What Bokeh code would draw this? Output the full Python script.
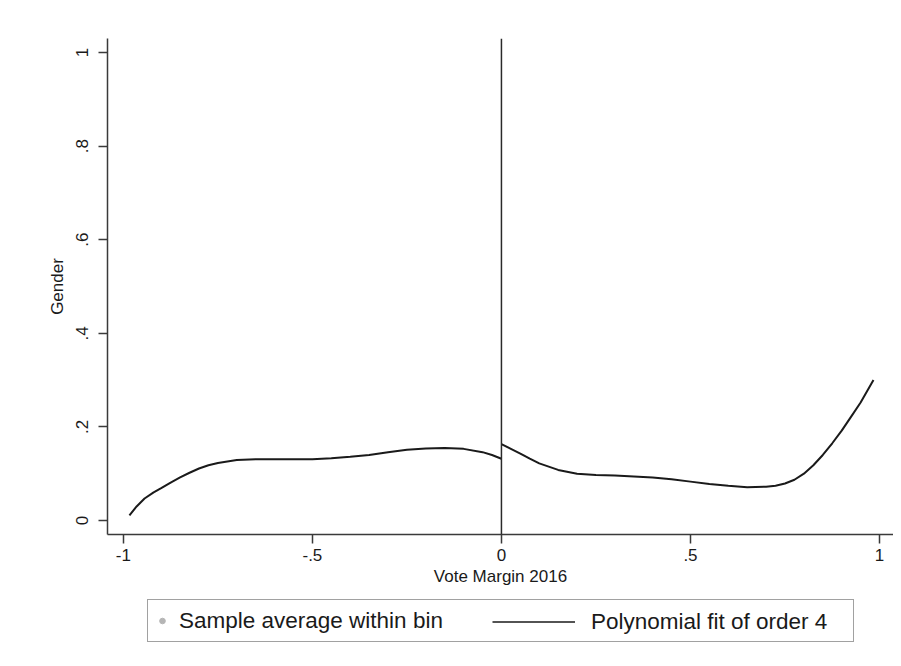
from bokeh.plotting import figure
from bokeh.models import Range1d, FixedTicker, Span, Legend, LegendItem, ColumnDataSource
from bokeh.layouts import column
from bokeh.embed import file_html
from bokeh.resources import INLINE

# --- data ---
left_x = [-0.984, -0.965, -0.944, -0.92, -0.90, -0.875, -0.85, -0.825, -0.80, -0.775, -0.75,
          -0.70, -0.65, -0.60, -0.55, -0.50, -0.45, -0.40, -0.35, -0.30, -0.25, -0.20,
          -0.15, -0.10, -0.05, -0.025, 0.0]
left_y = [0.011, 0.030, 0.047, 0.060, 0.069, 0.081, 0.092, 0.102, 0.111, 0.118, 0.123,
          0.129, 0.131, 0.131, 0.131, 0.131, 0.133, 0.136, 0.140, 0.146, 0.151, 0.154,
          0.155, 0.153, 0.146, 0.140, 0.132]
right_x = [0.0, 0.025, 0.05, 0.075, 0.10, 0.15, 0.20, 0.25, 0.30, 0.35, 0.40, 0.45, 0.50,
           0.55, 0.60, 0.65, 0.70, 0.725, 0.75, 0.775, 0.80, 0.825, 0.85, 0.875, 0.90,
           0.925, 0.95, 0.984]
right_y = [0.163, 0.153, 0.143, 0.132, 0.122, 0.108, 0.100, 0.097, 0.096, 0.094, 0.092,
           0.088, 0.083, 0.078, 0.074, 0.071, 0.072, 0.074, 0.079, 0.087, 0.100, 0.118,
           0.140, 0.165, 0.192, 0.222, 0.252, 0.300]
# legend-key sample only (kept outside the visible legend-strip range)
key_x = [5, 6]
key_y = [5, 6]

x_ticks = [-1, -0.5, 0, 0.5, 1]
x_tick_labels = ["-1", "-.5", "0", ".5", "1"]
y_ticks = [0, 0.2, 0.4, 0.6, 0.8, 1]
y_tick_labels = ["0", ".2", ".4", ".6", ".8", "1"]
cutoff = 0

FONT = "Liberation Sans"
AX = "#3a3a3a"
TXT = "#1a1a1a"

p = figure(width=893, height=595, output_backend="svg", toolbar_location=None,
           x_range=Range1d(-1.042, 1.037), y_range=Range1d(-0.030, 1.030),
           min_border_left=107, min_border_right=0, min_border_top=38, min_border_bottom=61,
           background_fill_color="white", border_fill_color="white")
p.outline_line_color = None
p.xgrid.visible = False
p.ygrid.visible = False

for ax in (p.xaxis[0], p.yaxis[0]):
    ax.axis_line_color = AX
    ax.axis_line_width = 1.5
    ax.major_tick_line_color = AX
    ax.major_tick_line_width = 1.5
    ax.major_tick_out = 9
    ax.major_tick_in = 0
    ax.minor_tick_line_color = None
    ax.major_label_text_font = FONT
    ax.major_label_text_font_size = "17px"
    ax.major_label_text_color = TXT
    ax.axis_label_text_font = FONT
    ax.axis_label_text_font_size = "17px"
    ax.axis_label_text_font_style = "normal"
    ax.axis_label_text_color = TXT

p.xaxis.ticker = FixedTicker(ticks=x_ticks)
p.xaxis.major_label_overrides = {t: l for t, l in zip(x_ticks, x_tick_labels)}
p.xaxis.axis_label = "Vote Margin 2016"
p.xaxis.major_label_standoff = 5
p.xaxis.axis_label_standoff = 3

p.yaxis.ticker = FixedTicker(ticks=y_ticks)
p.yaxis.major_label_overrides = {t: l for t, l in zip(y_ticks, y_tick_labels)}
p.yaxis.axis_label = "Gender"
p.yaxis.major_label_orientation = "vertical"
p.yaxis.major_label_standoff = 10
p.yaxis.axis_label_standoff = 7

p.line(left_x, left_y, line_color="#1a1a1a", line_width=2)
p.line(right_x, right_y, line_color="#1a1a1a", line_width=2)
p.add_layout(Span(location=cutoff, dimension="height", line_color="#2a2a2a", line_width=1.5))

# --- legend strip below the plot (its frame aligns with the plot frame: x 107..893) ---
q = figure(width=893, height=71, output_backend="svg", toolbar_location=None,
           x_range=Range1d(0, 1), y_range=Range1d(0, 1),
           min_border_left=0, min_border_right=0, min_border_top=0, min_border_bottom=0,
           background_fill_color="white", border_fill_color="white")
q.outline_line_color = None
q.xaxis.visible = False
q.yaxis.visible = False
q.xgrid.visible = False
q.ygrid.visible = False

sc = q.scatter(x="x", y="y", source=ColumnDataSource(dict(x=key_x, y=key_y)),
               size=1.5, color="#b5b5b5")
ln = q.line(x="x", y="y", source=ColumnDataSource(dict(x=key_x, y=key_y)),
            line_color="#1a1a1a", line_width=1.6)

leg1 = Legend(items=[LegendItem(label="Sample average within bin", renderers=[sc])],
              orientation="horizontal", location=(40, 24), margin=0, padding=7,
              glyph_width=14, glyph_height=27, label_standoff=10,
              label_width=667, label_height=27,
              label_text_font=FONT, label_text_font_size="22.5px", label_text_color=TXT,
              border_line_color="#444444", border_line_width=1.5,
              background_fill_color="white", background_fill_alpha=1.0)
leg2 = Legend(items=[LegendItem(label="Polynomial fit of order 4", renderers=[ln])],
              orientation="horizontal", location=(378, 24), margin=0, padding=7,
              glyph_width=83, glyph_height=27, label_standoff=16, label_height=27,
              label_text_font=FONT, label_text_font_size="22.5px", label_text_color=TXT,
              border_line_alpha=0, background_fill_alpha=0)
q.add_layout(leg1, "center")
q.add_layout(leg2, "center")

layout = column(p, q, spacing=0)
open("out.html", "w").write(file_html(layout, INLINE))
